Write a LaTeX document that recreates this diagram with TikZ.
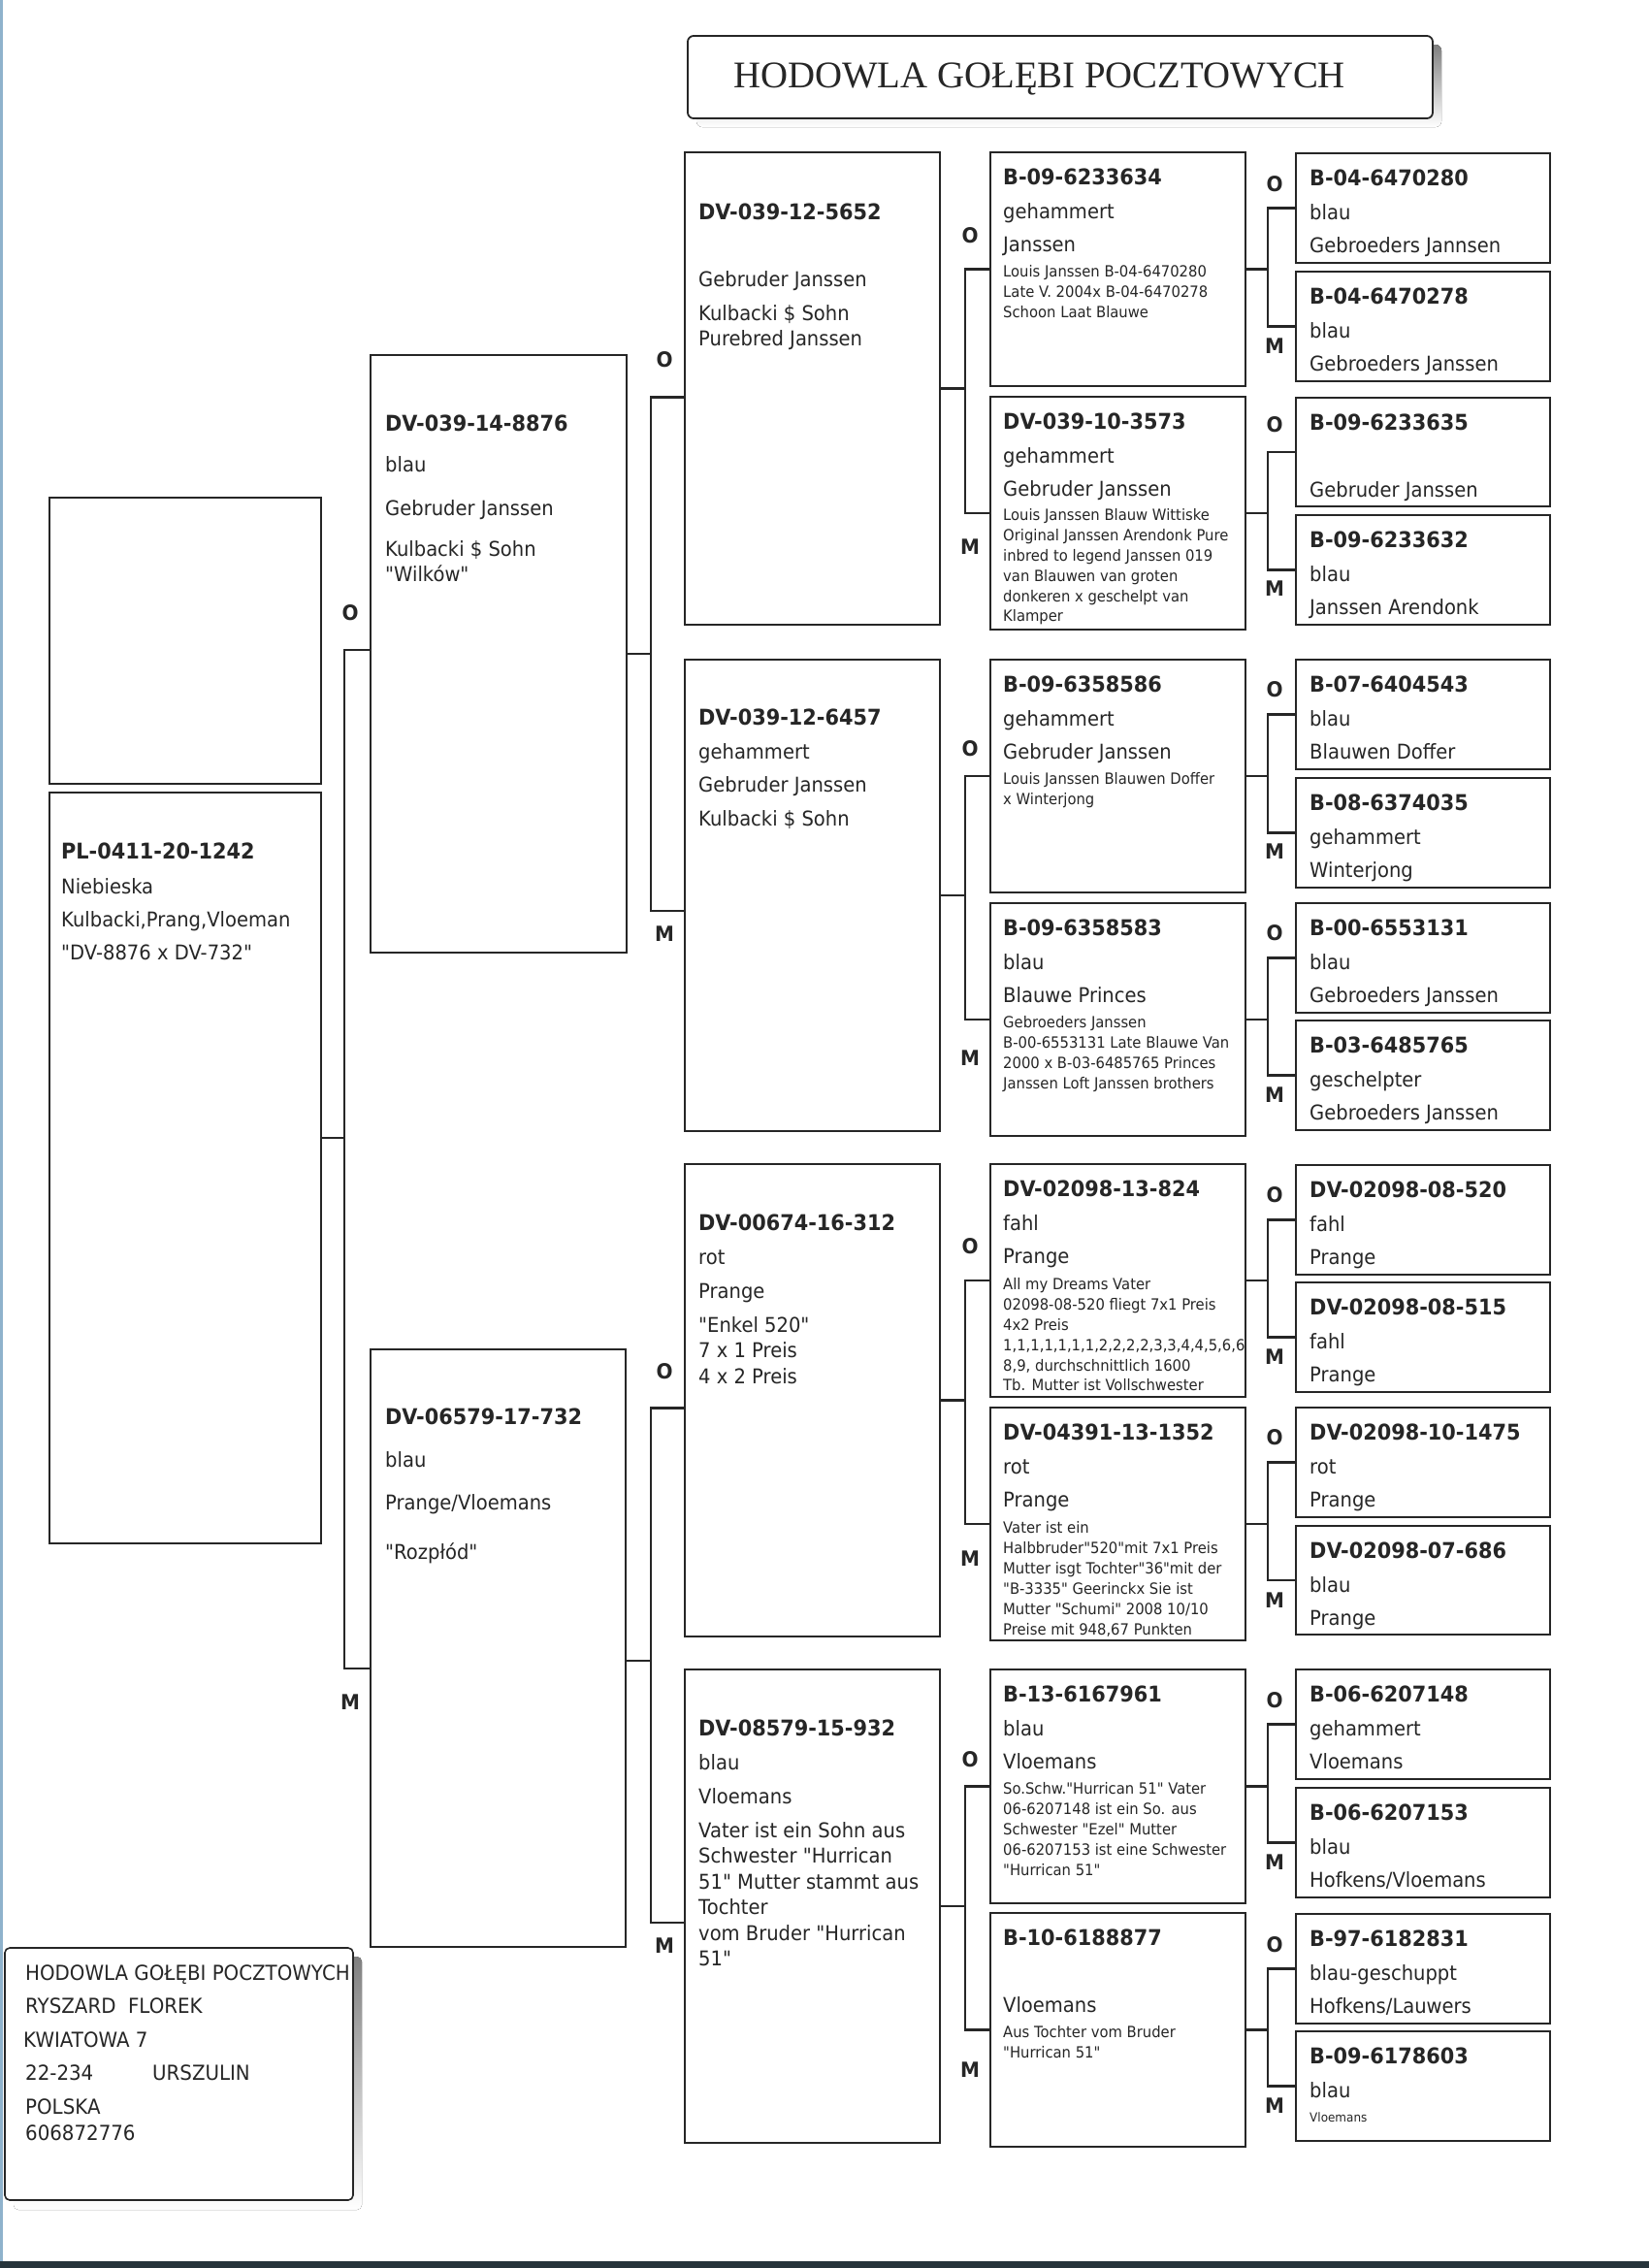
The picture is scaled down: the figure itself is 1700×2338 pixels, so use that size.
\documentclass[tikz,border=0pt]{standalone}
\usepackage{fontspec}
\newfontfamily\pf{DejaVu Sans}[FakeStretch=0.93]
\newfontfamily\tf{Liberation Serif}
\usetikzlibrary{calc}
\definecolor{ink}{HTML}{262626}
\definecolor{edge}{HTML}{262626}
\definecolor{shade}{HTML}{C6C6C6}
\definecolor{band}{HTML}{26343B}
\definecolor{scanedge}{HTML}{8FB2CC}
\newcounter{tln}
\newcommand\pb[5]{\node[pbox, minimum width=#4pt, minimum height=#5pt] (#1) at (#2,#3) {};}
\newcommand\tx[4]{\stepcounter{tln}\node[#1, name=tl\arabic{tln}] at ([shift={(#3)}]#2.north west) {#4};}
\tikzset{
  pbox/.style={draw=edge, line width=2.8pt, fill=white, rectangle, inner sep=0pt, outer sep=0pt, anchor=north west},
  rbox/.style={draw=edge, line width=1.8pt, fill=white, rectangle, rounded corners=6pt, inner sep=0pt, outer sep=0pt, anchor=north west},
  conn/.style={draw=edge, line width=2.6pt},
  lab/.style={font=\pf\bfseries\fontsize{21.5}{22}\selectfont, text=ink, inner sep=0pt},
  tb/.style={font=\pf\bfseries\fontsize{22.4}{24}\selectfont, text=ink, anchor=base west, inner sep=0pt},
  tr/.style={font=\pf\fontsize{21}{24}\selectfont, text=ink, anchor=base west, inner sep=0pt},
  ts/.style={font=\pf\fontsize{15.9}{21}\selectfont, text=ink, anchor=base west, inner sep=0pt},
  tt/.style={font=\pf\fontsize{12.9}{15}\selectfont, text=ink, anchor=base west, inner sep=0pt},
  ta/.style={font=\pf\fontsize{21.3}{24}\selectfont, text=ink, anchor=base west, inner sep=0pt},
}
\begin{document}
\begin{tikzpicture}[x=1pt,y=-1pt]
\useasboundingbox (0,0) rectangle (1700,2338);
\fill[white] (0,0) rectangle (1700,2338);
\fill[scanedge] (0,0) rectangle (2.5,2331);
\fill[band] (0,2331) rectangle (1700,2338);

% ---------- title ----------
\fill[shade, rounded corners=6pt] (718,46) rectangle (1486,131);
\node[rbox, minimum width=768pt, minimum height=85pt] (title) at (709,37) {};
\node[anchor=base west, inner sep=0pt, text=ink, font=\tf\fontsize{38.8}{40}\selectfont] (titletext) at (756,90.5) {HODOWLA GOŁĘBI POCZTOWYCH};

% ---------- generation 1 ----------
\pb{pe}{51}{513}{280}{295}
\pb{p0}{51}{817}{280}{774}
\tx{tb}{p0}{12,68}{PL-0411-20-1242}
\tx{tr}{p0}{12,104}{Niebieska}
\tx{tr}{p0}{12,138}{Kulbacki,Prang,Vloeman}
\tx{tr}{p0}{12,172}{"DV-8876 x DV-732"}

% ---------- generation 2 ----------
\pb{s}{382}{366}{264}{616}
\tx{tb}{s}{15,78}{DV-039-14-8876}
\tx{tr}{s}{15,120}{blau}
\tx{tr}{s}{15,165}{Gebruder Janssen}
\tx{tr}{s}{15,207}{Kulbacki \$ Sohn}
\tx{tr}{s}{15,233}{"Wilków"}

\pb{d}{382}{1391}{263}{616}
\tx{tb}{d}{15,77}{DV-06579-17-732}
\tx{tr}{d}{15,121}{blau}
\tx{tr}{d}{15,165}{Prange/Vloemans}
\tx{tr}{d}{15,216}{"Rozpłód"}

% ---------- generation 3 ----------
\pb{ss}{706}{157}{263}{487}
\tx{tb}{ss}{14,69}{DV-039-12-5652}
\tx{tr}{ss}{14,138}{Gebruder Janssen}
\tx{tr}{ss}{14,173}{Kulbacki \$ Sohn}
\tx{tr}{ss}{14,199}{Purebred Janssen}

\pb{sd}{706}{680}{263}{486}
\tx{tb}{sd}{14,67}{DV-039-12-6457}
\tx{tr}{sd}{14,102}{gehammert}
\tx{tr}{sd}{14,136}{Gebruder Janssen}
\tx{tr}{sd}{14,171}{Kulbacki \$ Sohn}

\pb{ds}{706}{1200}{263}{487}
\tx{tb}{ds}{14,68}{DV-00674-16-312}
\tx{tr}{ds}{14,103.5}{rot}
\tx{tr}{ds}{14,138}{Prange}
\tx{tr}{ds}{14,173}{"Enkel 520"}
\tx{tr}{ds}{14,199.5}{7 x 1 Preis}
\tx{tr}{ds}{14,226}{4 x 2 Preis}

\pb{dd}{706}{1721}{263}{488}
\tx{tb}{dd}{14,68.5}{DV-08579-15-932}
\tx{tr}{dd}{14,103}{blau}
\tx{tr}{dd}{14,138}{Vloemans}
\tx{tr}{dd}{14,173}{Vater ist ein Sohn aus}
\tx{tr}{dd}{14,199.5}{Schwester "Hurrican}
\tx{tr}{dd}{14,226}{51" Mutter stammt aus}
\tx{tr}{dd}{14,252.5}{Tochter}
\tx{tr}{dd}{14,279}{vom Bruder "Hurrican}
\tx{tr}{dd}{14,305.5}{51"}

% ---------- generation 4 ----------
\pb{ssa}{1021}{157}{263}{241}
\tx{tb}{ssa}{13,33}{B-09-6233634}
\tx{tr}{ssa}{13,68}{gehammert}
\tx{tr}{ssa}{13,102}{Janssen}
\tx{ts}{ssa}{13,128}{Louis Janssen B-04-6470280}
\tx{ts}{ssa}{13,149}{Late V. 2004x B-04-6470278}
\tx{ts}{ssa}{13,170}{Schoon Laat Blauwe}

\pb{ssb}{1021}{409}{263}{240}
\tx{tb}{ssb}{13,33}{DV-039-10-3573}
\tx{tr}{ssb}{13,68}{gehammert}
\tx{tr}{ssb}{13,102}{Gebruder Janssen}
\tx{ts}{ssb}{13,127}{Louis Janssen Blauw Wittiske}
\tx{ts}{ssb}{13,148}{Original Janssen Arendonk Pure}
\tx{ts}{ssb}{13,169}{inbred to legend Janssen 019}
\tx{ts}{ssb}{13,190}{van Blauwen van groten}
\tx{ts}{ssb}{13,211}{donkeren x geschelpt van}
\tx{ts}{ssb}{13,231}{Klamper}

\pb{sda}{1021}{680}{263}{240}
\tx{tb}{sda}{13,33}{B-09-6358586}
\tx{tr}{sda}{13,68}{gehammert}
\tx{tr}{sda}{13,102}{Gebruder Janssen}
\tx{ts}{sda}{13,128}{Louis Janssen Blauwen Doffer}
\tx{ts}{sda}{13,149}{x Winterjong}

\pb{sdb}{1021}{931}{263}{240}
\tx{tb}{sdb}{13,33}{B-09-6358583}
\tx{tr}{sdb}{13,68}{blau}
\tx{tr}{sdb}{13,102}{Blauwe Princes}
\tx{ts}{sdb}{13,128}{Gebroeders Janssen}
\tx{ts}{sdb}{13,149}{B-00-6553131 Late Blauwe Van}
\tx{ts}{sdb}{13,170}{2000 x B-03-6485765 Princes}
\tx{ts}{sdb}{13,191}{Janssen Loft Janssen brothers}

\pb{dsa}{1021}{1200}{263}{240}
\tx{tb}{dsa}{13,33}{DV-02098-13-824}
\tx{tr}{dsa}{13,68}{fahl}
\tx{tr}{dsa}{13,102}{Prange}
\tx{ts}{dsa}{13,129}{All my Dreams Vater}
\tx{ts}{dsa}{13,150}{02098-08-520 fliegt 7x1 Preis}
\tx{ts}{dsa}{13,171}{4x2 Preis}
\begin{scope}
\clip (1021,1200) rectangle (1283,1440);
\tx{ts}{dsa}{13,192}{1,1,1,1,1,1,1,2,2,2,2,3,3,4,4,5,6,6}
\end{scope}
\tx{ts}{dsa}{13,213}{8,9, durchschnittlich 1600}
\tx{ts}{dsa}{13,233}{Tb. Mutter ist Vollschwester}

\pb{dsb}{1021}{1451}{263}{240}
\tx{tb}{dsb}{13,33}{DV-04391-13-1352}
\tx{tr}{dsb}{13,68}{rot}
\tx{tr}{dsb}{13,102}{Prange}
\tx{ts}{dsb}{13,129}{Vater ist ein}
\tx{ts}{dsb}{13,150}{Halbbruder"520"mit 7x1 Preis}
\tx{ts}{dsb}{13,171}{Mutter isgt Tochter"36"mit der}
\tx{ts}{dsb}{13,192}{"B-3335" Geerinckx Sie ist}
\tx{ts}{dsb}{13,213}{Mutter "Schumi" 2008 10/10}
\tx{ts}{dsb}{13,234}{Preise mit 948,67 Punkten}

\pb{dda}{1021}{1721}{263}{241}
\tx{tb}{dda}{13,33}{B-13-6167961}
\tx{tr}{dda}{13,68}{blau}
\tx{tr}{dda}{13,102}{Vloemans}
\tx{ts}{dda}{13,128}{So.Schw."Hurrican 51" Vater}
\tx{ts}{dda}{13,149}{06-6207148 ist ein So. aus}
\tx{ts}{dda}{13,170}{Schwester "Ezel" Mutter}
\tx{ts}{dda}{13,191}{06-6207153 ist eine Schwester}
\tx{ts}{dda}{13,212}{"Hurrican 51"}

\pb{ddb}{1021}{1972}{263}{241}
\tx{tb}{ddb}{13,33}{B-10-6188877}
\tx{tr}{ddb}{13,102}{Vloemans}
\tx{ts}{ddb}{13,128}{Aus Tochter vom Bruder}
\tx{ts}{ddb}{13,149}{"Hurrican 51"}

% ---------- generation 5 ----------
\pb{ssa1}{1336}{158}{262}{113}
\tx{tb}{ssa1}{14,33}{B-04-6470280}
\tx{tr}{ssa1}{14,68}{blau}
\tx{tr}{ssa1}{14,102}{Gebroeders Jannsen}
\pb{ssa2}{1336}{280}{262}{113}
\tx{tb}{ssa2}{14,33}{B-04-6470278}
\tx{tr}{ssa2}{14,68}{blau}
\tx{tr}{ssa2}{14,102}{Gebroeders Janssen}
\pb{ssb1}{1336}{410}{262}{112}
\tx{tb}{ssb1}{14,33}{B-09-6233635}
\tx{tr}{ssb1}{14,102}{Gebruder Janssen}
\pb{ssb2}{1336}{531}{262}{113}
\tx{tb}{ssb2}{14,33}{B-09-6233632}
\tx{tr}{ssb2}{14,68}{blau}
\tx{tr}{ssb2}{14,102}{Janssen Arendonk}

\pb{sda1}{1336}{680}{262}{113}
\tx{tb}{sda1}{14,33}{B-07-6404543}
\tx{tr}{sda1}{14,68}{blau}
\tx{tr}{sda1}{14,102}{Blauwen Doffer}
\pb{sda2}{1336}{802}{262}{113}
\tx{tb}{sda2}{14,33}{B-08-6374035}
\tx{tr}{sda2}{14,68}{gehammert}
\tx{tr}{sda2}{14,102}{Winterjong}
\pb{sdb1}{1336}{931}{262}{113}
\tx{tb}{sdb1}{14,33}{B-00-6553131}
\tx{tr}{sdb1}{14,68}{blau}
\tx{tr}{sdb1}{14,102}{Gebroeders Janssen}
\pb{sdb2}{1336}{1052}{262}{113}
\tx{tb}{sdb2}{14,33}{B-03-6485765}
\tx{tr}{sdb2}{14,68}{geschelpter}
\tx{tr}{sdb2}{14,102}{Gebroeders Janssen}

\pb{dsa1}{1336}{1201}{262}{113}
\tx{tb}{dsa1}{14,33}{DV-02098-08-520}
\tx{tr}{dsa1}{14,68}{fahl}
\tx{tr}{dsa1}{14,102}{Prange}
\pb{dsa2}{1336}{1322}{262}{113}
\tx{tb}{dsa2}{14,33}{DV-02098-08-515}
\tx{tr}{dsa2}{14,68}{fahl}
\tx{tr}{dsa2}{14,102}{Prange}
\pb{dsb1}{1336}{1451}{262}{113}
\tx{tb}{dsb1}{14,33}{DV-02098-10-1475}
\tx{tr}{dsb1}{14,68}{rot}
\tx{tr}{dsb1}{14,102}{Prange}
\pb{dsb2}{1336}{1573}{262}{112}
\tx{tb}{dsb2}{14,33}{DV-02098-07-686}
\tx{tr}{dsb2}{14,68}{blau}
\tx{tr}{dsb2}{14,102}{Prange}

\pb{dda1}{1336}{1721}{262}{113}
\tx{tb}{dda1}{14,33}{B-06-6207148}
\tx{tr}{dda1}{14,68}{gehammert}
\tx{tr}{dda1}{14,102}{Vloemans}
\pb{dda2}{1336}{1843}{262}{113}
\tx{tb}{dda2}{14,33}{B-06-6207153}
\tx{tr}{dda2}{14,68}{blau}
\tx{tr}{dda2}{14,102}{Hofkens/Vloemans}
\pb{ddb1}{1336}{1973}{262}{113}
\tx{tb}{ddb1}{14,33}{B-97-6182831}
\tx{tr}{ddb1}{14,68}{blau-geschuppt}
\tx{tr}{ddb1}{14,102}{Hofkens/Lauwers}
\pb{ddb2}{1336}{2094}{262}{113}
\tx{tb}{ddb2}{14,33}{B-09-6178603}
\tx{tr}{ddb2}{14,68}{blau}
\tx{tt}{ddb2}{14,93}{Vloemans}

% ---------- connectors ----------
\draw[conn] ([yshift=31pt]p0.east) -- ++(24,0);
\draw[conn] ([yshift=4pt]s.west) -- ++(-27,0) |- ([yshift=-21pt]d.west);

\draw[conn] (s.east) -- ++(25,0);
\draw[conn] ([yshift=-9pt]ss.west) -- ++(-35,0) |- ([yshift=-16pt]sd.west);
\draw[conn] ([yshift=-13pt]d.east) -- ++(26,0);
\draw[conn] ([yshift=-8pt]ds.west) -- ++(-35,0) |- ([yshift=-17pt]dd.west);

\foreach \g in {ss,sd,ds,dd}{
  \draw[conn] (\g.east) -- ++(26,0);
  \draw[conn] (\g a.west) -- ++(-26,0) |- (\g b.west);
}
\foreach \g in {ssa,ssb,sda,sdb,dsa,dsb,dda,ddb}{
  \draw[conn] (\g.east) -- ++(23,0);
  \draw[conn] (\g 1.west) -- ++(-29,0) |- (\g 2.west);
}

% ---------- O / M labels ----------
\node[lab] (o1) at (361,632) {O};
\node[lab] (m1) at (361,1755) {M};
\node[lab] (o2a) at (685,371) {O};
\node[lab] (m2a) at (685,963) {M};
\node[lab] (o2b) at (685,1414) {O};
\node[lab] (m2b) at (685,2006) {M};

\node[lab] (o3a) at (1000,243) {O};
\node[lab] (m3a) at (1000,564) {M};
\node[lab] (o3b) at (1000,772) {O};
\node[lab] (m3b) at (1000,1091) {M};
\node[lab] (o3c) at (1000,1285) {O};
\node[lab] (m3c) at (1000,1607) {M};
\node[lab] (o3d) at (1000,1814) {O};
\node[lab] (m3d) at (1000,2134) {M};

\node[lab] (o4a) at (1314,190) {O};
\node[lab] (m4a) at (1314,357) {M};
\node[lab] (o4b) at (1314,438) {O};
\node[lab] (m4b) at (1314,607) {M};
\node[lab] (o4c) at (1314,711) {O};
\node[lab] (m4c) at (1314,878) {M};
\node[lab] (o4d) at (1314,962) {O};
\node[lab] (m4d) at (1314,1129) {M};
\node[lab] (o4e) at (1314,1232) {O};
\node[lab] (m4e) at (1314,1399) {M};
\node[lab] (o4f) at (1314,1482) {O};
\node[lab] (m4f) at (1314,1650) {M};
\node[lab] (o4g) at (1314,1753) {O};
\node[lab] (m4g) at (1314,1920) {M};
\node[lab] (o4h) at (1314,2005) {O};
\node[lab] (m4h) at (1314,2171) {M};

% ---------- address box ----------
\fill[shade, rounded corners=5pt] (14,2017) rectangle (373,2278);
\node[rbox, line width=1.6pt, rounded corners=5pt, minimum width=359pt, minimum height=260pt] (addr) at (5,2008) {};
\begin{scope}
\clip (5,2008) rectangle (364,2268);
\node[ta] (a1) at (26,2041) {HODOWLA GOŁĘBI POCZTOWYCH};
\end{scope}
\node[ta] (a2) at (26,2075) {RYSZARD\ \ FLOREK};
\node[ta] (a3) at (24,2110) {KWIATOWA 7};
\node[ta] (a4) at (26,2144) {22-234};
\node[ta] (a5) at (157,2144) {URSZULIN};
\node[ta] (a6) at (26,2179) {POLSKA};
\node[ta] (a7) at (26,2206) {606872776};
\end{tikzpicture}
\end{document}
